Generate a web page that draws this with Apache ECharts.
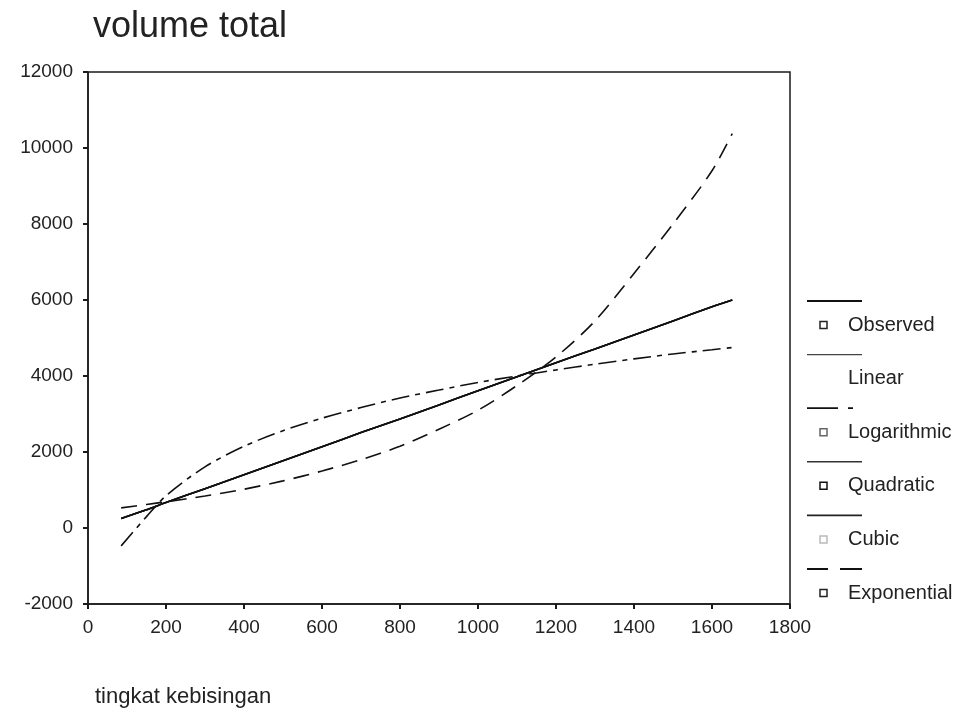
<!DOCTYPE html>
<html>
<head>
<meta charset="utf-8">
<script src="https://cdn.jsdelivr.net/npm/echarts@6/dist/echarts.min.js"></script>
<style>
html,body{margin:0;padding:0;background:#fff;}
#chart{width:970px;height:712px;}
</style>
</head>
<body>
<div id="chart"></div>
<script>
// x positions (tingkat kebisingan) of the fitted curves
const xValues = [85, 150, 200, 300, 400, 500, 600, 700, 800, 900, 1000, 1100, 1200, 1300, 1400, 1500, 1600, 1652];
// fitted values (volume total)
const linearVals      = [250, 480, 670, 1035, 1400, 1770, 2140, 2510, 2870, 3240, 3610, 3980, 4350, 4710, 5080, 5450, 5820, 6000];
const logarithmicVals = [-470, 300, 850, 1610, 2150, 2560, 2890, 3170, 3420, 3630, 3830, 4000, 4160, 4310, 4450, 4580, 4690, 4750];
const quadraticVals   = [250, 480, 670, 1035, 1400, 1770, 2140, 2510, 2870, 3240, 3610, 3980, 4350, 4710, 5080, 5450, 5820, 6000];
const cubicVals       = [250, 480, 670, 1035, 1400, 1770, 2140, 2510, 2870, 3240, 3610, 3980, 4350, 4710, 5080, 5450, 5820, 6000];
const exponentialVals = [530, 620, 690, 840, 1020, 1240, 1500, 1800, 2150, 2600, 3100, 3750, 4500, 5450, 6700, 8000, 9400, 10380];

const xTicks = [0, 200, 400, 600, 800, 1000, 1200, 1400, 1600, 1800];
const yTicks = [-2000, 0, 2000, 4000, 6000, 8000, 10000, 12000];

const legendLabels = ['Observed', 'Linear', 'Logarithmic', 'Quadratic', 'Cubic', 'Exponential'];

const chartTitle = 'volume total';
const xTitle = 'tingkat kebisingan';

const FONT = '"Liberation Sans", Arial, sans-serif';
const INK = '#1a1a1a';

function pairs(vals) { return xValues.map((x, i) => [x, vals[i]]); }

// legend drawn as graphic elements (line sample above, marker + label below)
const legendLineStyles = [
  { lineWidth: 2.2, stroke: '#111' },
  { lineWidth: 1.3, stroke: '#444' },
  { lineWidth: 1.8, stroke: '#111', lineDash: [31, 10, 5, 200] },
  { lineWidth: 1.6, stroke: '#333' },
  { lineWidth: 1.6, stroke: '#222' },
  { lineWidth: 2, stroke: '#111', lineDash: [21, 12, 22, 200] }
];
const legendMarkerColors = ['#222', null, '#666', '#111', '#bbb', '#222'];
const graphics = [];
legendLabels.forEach((lab, i) => {
  const lineY = 301 + i * 53.6;
  const textY = 325 + i * 53.6;
  graphics.push({
    type: 'line',
    shape: { x1: 807, y1: lineY, x2: 862, y2: lineY },
    style: legendLineStyles[i]
  });
  if (legendMarkerColors[i]) {
    graphics.push({
      type: 'rect',
      shape: { x: 820, y: textY - 3.5, width: 7, height: 7 },
      style: { fill: '#fff', stroke: legendMarkerColors[i], lineWidth: 1.5 }
    });
  }
  graphics.push({
    type: 'text',
    x: 848, y: textY,
    style: { text: lab, font: '20px ' + FONT, fill: '#222', textVerticalAlign: 'middle', verticalAlign: 'middle' }
  });
});

function curve(name, vals, type, width) {
  return {
    name: name,
    type: 'line',
    data: pairs(vals),
    smooth: 0.3,
    showSymbol: false,
    symbol: 'none',
    silent: true,
    lineStyle: { color: '#111', width: width, type: type },
    z: 3
  };
}

const chart = echarts.init(document.getElementById('chart'), null, { renderer: 'canvas' });
chart.setOption({
  backgroundColor: '#fff',
  animation: false,
  title: [
    { text: chartTitle, left: 88, top: 4,
      textStyle: { fontFamily: FONT, fontSize: 36, fontWeight: 'normal', color: '#222' } },
    { text: xTitle, left: 90, top: 681,
      textStyle: { fontFamily: FONT, fontSize: 22, fontWeight: 'normal', color: '#222' } }
  ],
  grid: {
    left: 88, top: 72, right: 180, bottom: 108,
    show: true, borderColor: INK, borderWidth: 1.5, backgroundColor: 'transparent'
  },
  xAxis: {
    type: 'value',
    min: xTicks[0], max: xTicks[xTicks.length - 1], interval: 200,
    splitLine: { show: false },
    axisLine: { show: true, onZero: false, lineStyle: { color: INK, width: 1.5 } },
    axisTick: { show: true, length: 5, lineStyle: { color: INK, width: 2 } },
    axisLabel: { margin: 14, fontFamily: FONT, fontSize: 19, color: '#222',
      formatter: function (v) { return String(v); } }
  },
  yAxis: {
    type: 'value',
    min: yTicks[0], max: yTicks[yTicks.length - 1], interval: 2000,
    splitLine: { show: false },
    axisLine: { show: true, onZero: false, lineStyle: { color: INK, width: 1.5 } },
    axisTick: { show: true, length: 5, lineStyle: { color: INK, width: 2 } },
    axisLabel: { margin: 15, fontFamily: FONT, fontSize: 19, color: '#222',
      formatter: function (v) { return String(v); } }
  },
  series: [
    curve('Linear', linearVals, 'solid', 1.6),
    curve('Logarithmic', logarithmicVals, [18, 6, 5, 6], 1.6),
    curve('Quadratic', quadraticVals, 'solid', 1.6),
    curve('Cubic', cubicVals, 'solid', 1.6),
    curve('Exponential', exponentialVals, [16, 9], 1.6)
  ],
  graphic: graphics
});
</script>
</body>
</html>
